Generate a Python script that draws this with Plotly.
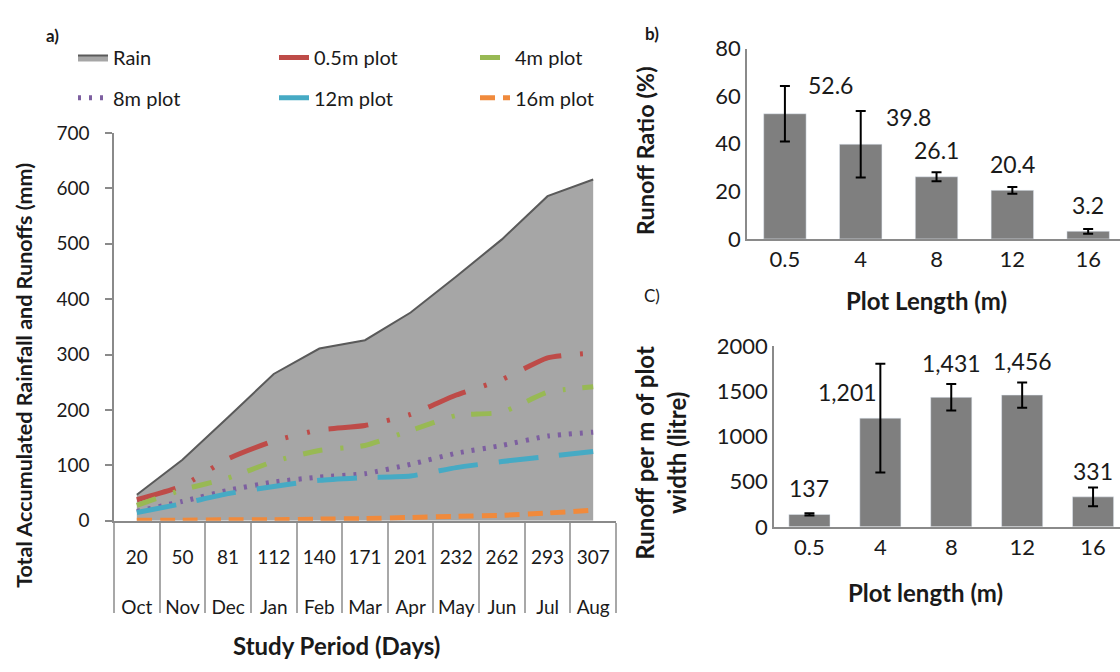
import plotly.graph_objects as go

# ---- data -------------------------------------------------------------
months = ["Oct", "Nov", "Dec", "Jan", "Feb", "Mar", "Apr", "May", "Jun", "Jul", "Aug"]
days = ["20", "50", "81", "112", "140", "171", "201", "232", "262", "293", "307"]

rain = [47, 110, 187, 265, 311, 326, 376, 441, 508, 586, 616]
runoff_05m = [38, 63, 112, 144, 164, 172, 192, 227, 255, 294, 303]
runoff_4m = [28, 56, 77, 107, 127, 136, 163, 190, 196, 232, 242]
runoff_8m = [17, 35, 55, 70, 79, 85, 102, 122, 136, 153, 160]
runoff_12m = [15, 31, 49, 62, 73, 78, 81, 96, 107, 116, 125]
runoff_16m = [1, 1, 2, 2, 3, 4, 6, 8, 10, 14, 19]

plot_lengths = ["0.5", "4", "8", "12", "16"]
runoff_ratio = [52.6, 39.8, 26.1, 20.4, 3.2]
runoff_ratio_err = [11.7, 14.0, 1.9, 1.4, 1.0]
runoff_per_width = [137, 1201, 1431, 1456, 331]
runoff_per_width_err = [12, 601, 146, 140, 104]

# ---- styling ----------------------------------------------------------
FONT = "Lato"
AXIS_GRAY = "#8A8A8A"
TEXT = "#1a1a1a"
BAR_GRAY = "#7F7F7F"

# two-row category labels: day count above, month below
period_labels = [f"{d}<br><br>{m}" for d, m in zip(days, months)]

fig = go.Figure()

fig.add_trace(go.Scatter(
    x=months, y=rain, name="Rain", mode="lines", fill="tozeroy",
    fillcolor="#A6A6A6", line=dict(color="#5A5A5A", width=2),
    legend="legend", xaxis="x", yaxis="y",
))

line_specs = [
    ("0.5m plot", runoff_05m, "#BE4B48", "40px,19px,3px,19px,3px,19px", "legend"),
    ("4m plot", runoff_4m, "#98B954", "20px,18px,3px,17px", "legend"),
    ("8m plot", runoff_8m, "#7D5FA0", "3px,8px", "legend2"),
    ("12m plot", runoff_12m, "#46AAC4", "40px,21px", "legend2"),
    ("16m plot", runoff_16m, "#F08A3C", "15px,8px", "legend2"),
]
for name, vals, color, dash, leg in line_specs:
    fig.add_trace(go.Scatter(
        x=months, y=vals, name=name, mode="lines",
        line=dict(color=color, width=5, dash=dash, shape="spline", smoothing=0.5),
        legend=leg, xaxis="x", yaxis="y",
    ))

# Panel b: runoff ratio
fig.add_trace(go.Bar(
    x=plot_lengths, y=runoff_ratio, marker_color=BAR_GRAY, width=0.56,
    error_y=dict(type="data", array=runoff_ratio_err, color="black", thickness=2, width=5),
    showlegend=False, xaxis="x2", yaxis="y2",
))

# Panel c: runoff per metre of plot width
fig.add_trace(go.Bar(
    x=plot_lengths, y=runoff_per_width, marker_color=BAR_GRAY, width=0.58,
    error_y=dict(type="data", array=runoff_per_width_err, color="black", thickness=2, width=5),
    showlegend=False, xaxis="x3", yaxis="y3",
))

annotations = []

# value labels for panel b (category index used as x position)
b_shift = [(46, 29), (48, 27), (0, 27), (0, 26), (0, 26)]
for i, (v, (dx, dy)) in enumerate(zip(runoff_ratio, b_shift)):
    annotations.append(dict(
        x=i, y=v, xref="x2", yref="y2", text=f"{v}", showarrow=False,
        xshift=dx, yshift=dy, font=dict(family=FONT, size=23, color=TEXT),
    ))

# value labels for panel c
c_shift = [(0, 26), (-33, 26), (0, 34), (0, 34), (0, 26)]
for i, (v, (dx, dy)) in enumerate(zip(runoff_per_width, c_shift)):
    annotations.append(dict(
        x=i, y=v, xref="x3", yref="y3", text=f"{v:,}", showarrow=False,
        xshift=dx, yshift=dy, font=dict(family=FONT, size=23, color=TEXT),
    ))

def paper_label(text, px, py, size, angle=0, bold=True):
    annotations.append(dict(
        x=px / 1120, y=1 - py / 672, xref="paper", yref="paper",
        text=f"<b>{text}</b>" if bold else text, showarrow=False, textangle=angle,
        xanchor="center", yanchor="middle",
        font=dict(family=FONT, size=size, color=TEXT),
    ))

paper_label("a)", 52, 22, 17)
paper_label("b)", 652, 20, 17)
paper_label("C)", 652, 293, 17, bold=False)
paper_label("Total Accumulated Rainfall and Runoffs (mm)", 24, 377, 21.5, angle=-90)
paper_label("Study Period (Days)", 336, 658, 24)
paper_label("Runoff Ratio (%)", 645, 143, 23.5, angle=-90)
paper_label("Plot Length (m)", 926, 298, 24)
paper_label("Runoff per m of plot<br>width (litre)", 660, 457, 24, angle=-90)
paper_label("Plot length (m)", 925, 603, 24)

tick_font_bc = dict(family=FONT, size=22, color=TEXT)
legend_font = dict(family=FONT, size=20, color=TEXT)

fig.update_layout(
    width=1120, height=672,
    margin=dict(l=0, r=0, t=0, b=0),
    paper_bgcolor="white", plot_bgcolor="white",
    font=dict(family=FONT, color=TEXT),
    showlegend=True,
    legend=dict(
        orientation="h", x=73 / 1120, y=1 - 25 / 672, xanchor="left", yanchor="top",
        entrywidth=156, entrywidthmode="pixels", bgcolor="rgba(0,0,0,0)",
        font=legend_font,
    ),
    legend2=dict(
        orientation="h", x=73 / 1120, y=1 - 67 / 672, xanchor="left", yanchor="top",
        entrywidth=156, entrywidthmode="pixels", bgcolor="rgba(0,0,0,0)",
        font=legend_font,
    ),
    annotations=annotations,
    xaxis=dict(
        domain=[114 / 1120, 616 / 1120], anchor="y", type="category",
        range=[-0.5, len(months) - 0.5],
        tickvals=months, ticktext=period_labels, tickangle=0,
        tickson="boundaries", ticks="outside", ticklen=90,
        tickcolor="#A8A8A8", tickwidth=1.5, ticklabelstandoff=19,
        showline=True, linecolor=AXIS_GRAY, linewidth=1.5,
        tickfont=dict(family=FONT, size=19, color=TEXT),
        showgrid=False, zeroline=False,
    ),
    yaxis=dict(
        domain=[1 - 528 / 672, 1 - 124 / 672], anchor="x", range=[0, 700], dtick=100,
        showline=True, linecolor=AXIS_GRAY, linewidth=1.5,
        ticks="outside", ticklen=7, tickcolor=AXIS_GRAY, tickwidth=1.5,
        ticklabelstandoff=12,
        tickfont=dict(family=FONT, size=19, color=TEXT), showgrid=False, zeroline=False,
    ),
    xaxis2=dict(
        domain=[747 / 1120, 1.0], anchor="y2", type="category", range=[-0.5, 4.42],
        showline=True, linecolor=AXIS_GRAY, linewidth=1.5, ticks="",
        tickfont=tick_font_bc, showgrid=False, zeroline=False,
    ),
    yaxis2=dict(
        domain=[1 - 234.3 / 672, 1 - 36 / 672], anchor="x2", range=[0, 80], dtick=20,
        showline=True, linecolor=AXIS_GRAY, linewidth=1.5, ticks="",
        tickfont=tick_font_bc, showgrid=False, zeroline=False,
    ),
    xaxis3=dict(
        domain=[774 / 1120, 1.0], anchor="y3", type="category", range=[-0.5, 4.38],
        showline=True, linecolor=AXIS_GRAY, linewidth=1.5, ticks="",
        tickfont=tick_font_bc, showgrid=False, zeroline=False,
    ),
    yaxis3=dict(
        domain=[1 - 534.3 / 672, 1 - 345.7 / 672], anchor="x3", range=[0, 2000], dtick=500,
        showline=True, linecolor=AXIS_GRAY, linewidth=1.5, ticks="",
        tickfont=tick_font_bc, showgrid=False, zeroline=False,
    ),
)

fig.write_html("out.html")
